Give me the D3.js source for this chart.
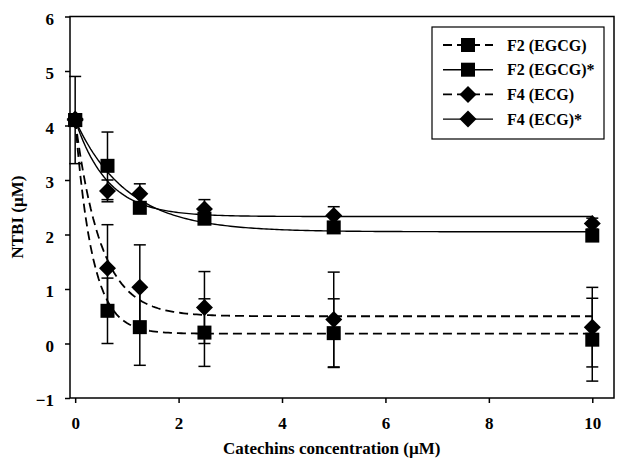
<!DOCTYPE html>
<html><head><meta charset="utf-8">
<script src="https://cdn.jsdelivr.net/npm/d3@7/dist/d3.min.js"></script>
<style>body{margin:0;background:#fff}svg{display:block}</style>
</head><body>
<script>
// ---- data ----
const conc = [0, 0.625, 1.25, 2.5, 5, 10];
const seriesNames = ["F2 (EGCG)", "F2 (EGCG)*", "F4 (ECG)", "F4 (ECG)*"];
const f2Values     = [4.10, 0.60, 0.30, 0.20, 0.19, 0.07];
const f2Errors     = [0.80, 0.60, 0.70, 0.62, 0.63, 0.76];
const f2sValues    = [4.10, 3.26, 2.49, 2.29, 2.13, 1.98];
const f2sErrors    = [0.00, 0.62, 0.08, 0.08, 0.08, 0.05];
const f4Values     = [4.10, 1.38, 1.03, 0.66, 0.44, 0.30];
const f4Errors     = [0.00, 0.80, 0.78, 0.66, 0.87, 0.73];
const f4sValues    = [4.12, 2.80, 2.75, 2.47, 2.35, 2.20];
const f4sErrors    = [0.00, 0.20, 0.18, 0.17, 0.16, 0.10];
// exponential-decay fit parameters: y = plateau + (start - plateau) * exp(-rate * x)
const fitStart   = [4.10, 4.10, 4.10, 4.10];
const fitPlateau = [0.18, 2.05, 0.50, 2.33];
const fitRate    = [3.0, 1.0, 2.0, 1.6];
const xTicks = [0, 2, 4, 6, 8, 10];
const yTicks = [-1, 0, 1, 2, 3, 4, 5, 6];

const values = [f2Values, f2sValues, f4Values, f4sValues];
const errors = [f2Errors, f2sErrors, f4Errors, f4sErrors];
const dashed = [true, false, true, false];
const shapes = ["square", "square", "diamond", "diamond"];

const W = 617, H = 461;
const pL = 70, pR = 614, pT = 16.5, pB = 398;
const svg = d3.select("body").append("svg").attr("width", W).attr("height", H);
const x = d3.scaleLinear().domain([-0.1, 10.42]).range([pL, pR]);
const y = d3.scaleLinear().domain([-1, 6]).range([pB, pT]);
const font = "'Liberation Serif','Times New Roman',serif";

// frame
svg.append("rect").attr("x", pL).attr("y", pT).attr("width", pR - pL).attr("height", pB - pT)
  .attr("fill", "none").attr("stroke", "#000").attr("stroke-width", 1.5);

// axes
const yAxis = svg.append("g").attr("transform", `translate(${pL},0)`)
  .call(d3.axisLeft(y).tickValues(yTicks).tickSize(5).tickPadding(11).tickFormat(d3.format("d")));
const xAxis = svg.append("g").attr("transform", `translate(0,${pB})`)
  .call(d3.axisBottom(x).tickValues(xTicks).tickSize(5).tickPadding(14).tickFormat(d3.format("d")));
[yAxis, xAxis].forEach(g => {
  g.select(".domain").remove();
  g.selectAll("line").attr("stroke", "#000").attr("stroke-width", 1.5);
  g.selectAll("text").attr("font-family", font).attr("font-weight", "bold").attr("font-size", 17).attr("fill", "#000");
});
yAxis.selectAll("text").attr("dy", "0.45em");

// axis titles
svg.append("text").attr("x", x(5) - 2).attr("y", 454).attr("text-anchor", "middle")
  .attr("font-family", font).attr("font-weight", "bold").attr("font-size", 17).text("Catechins concentration (µM)");
svg.append("text").attr("transform", `translate(23,${y(2.32)}) rotate(-90)`).attr("text-anchor", "middle")
  .attr("font-family", font).attr("font-weight", "bold").attr("font-size", 17).text("NTBI (µM)");

const plot = svg.append("g");
// fit curves
const xs = d3.range(0, 10.0001, 0.05);
seriesNames.forEach((name, i) => {
  const pts = xs.map(v => [v, fitPlateau[i] + (fitStart[i] - fitPlateau[i]) * Math.exp(-fitRate[i] * v)]);
  plot.append("path").datum(pts)
    .attr("d", d3.line().x(d => x(d[0])).y(d => y(d[1])))
    .attr("fill", "none").attr("stroke", "#000")
    .attr("stroke-width", dashed[i] ? 1.8 : 1.4)
    .attr("stroke-dasharray", dashed[i] ? "9,5" : null);
});

// error bars
seriesNames.forEach((name, i) => {
  conc.forEach((c, j) => {
    const e = errors[i][j];
    if (!e) return;
    const v = values[i][j], cx = x(c);
    const g = plot.append("g").attr("stroke", "#000").attr("stroke-width", 1.5);
    g.append("line").attr("x1", cx).attr("x2", cx).attr("y1", y(v - e)).attr("y2", y(v + e));
    [v - e, v + e].forEach(t => g.append("line").attr("x1", cx - 6).attr("x2", cx + 6).attr("y1", y(t)).attr("y2", y(t)));
  });
});

// markers
function marker(g, shape, cx, cy) {
  if (shape === "square") {
    g.append("rect").attr("x", cx - 7).attr("y", cy - 7).attr("width", 14).attr("height", 14).attr("fill", "#000");
  } else {
    const r = 8.5;
    g.append("path").attr("d", `M${cx},${cy - r}L${cx + r},${cy}L${cx},${cy + r}L${cx - r},${cy}Z`).attr("fill", "#000");
  }
}
seriesNames.forEach((name, i) => {
  conc.forEach((c, j) => marker(plot, shapes[i], x(c), y(values[i][j])));
});

// legend
const lg = svg.append("g");
lg.append("rect").attr("x", 432).attr("y", 27).attr("width", 172).attr("height", 112)
  .attr("fill", "#fff").attr("stroke", "#000").attr("stroke-width", 1.2);
seriesNames.forEach((name, i) => {
  const ly = 45 + i * 24.7;
  lg.append("line").attr("x1", 443).attr("x2", 493).attr("y1", ly).attr("y2", ly)
    .attr("stroke", "#000").attr("stroke-width", dashed[i] ? 1.8 : 1.4)
    .attr("stroke-dasharray", dashed[i] ? "9,5" : null);
  marker(lg, shapes[i], 468, ly);
  lg.append("text").attr("x", 507).attr("y", ly + 5.5).attr("font-family", font).attr("font-weight", "bold")
    .attr("font-size", 16).text(name);
});
</script>
</body></html>
